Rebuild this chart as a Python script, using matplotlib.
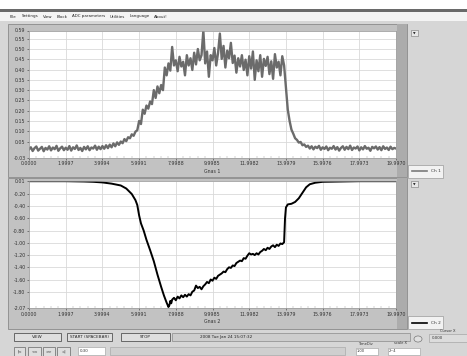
import numpy as np
import matplotlib
matplotlib.use('Agg')
import matplotlib.pyplot as plt
from matplotlib.patches import Rectangle, Circle
from matplotlib.ticker import MultipleLocator

# ---- data ----
x_ticks = [0.0, 1.9997, 3.9994, 5.9991, 7.9988, 9.9985, 11.9982, 13.9979, 15.9976, 17.9973, 19.9970]
x_ticklabels = ['0.0000', '1.9997', '3.9994', '5.9991', '7.9988', '9.9985',
                '11.9982', '13.9979', '15.9976', '17.9973', '19.9970']

ch1_ticks = [0.59, 0.55, 0.50, 0.45, 0.40, 0.35, 0.30, 0.25, 0.20, 0.15, 0.10, 0.05, -0.03]
ch1_ticklabels = ['0.59', '0.55', '0.50', '0.45', '0.40', '0.35', '0.30', '0.25',
                  '0.20', '0.15', '0.10', '0.05', '-0.03']
ch2_ticks = [0.01, -0.20, -0.40, -0.60, -0.80, -1.00, -1.20, -1.40, -1.60, -1.80, -2.07]
ch2_ticklabels = ['0.01', '-0.20', '-0.40', '-0.60', '-0.80', '-1.00', '-1.20',
                  '-1.40', '-1.60', '-1.80', '-2.07']

# channel 1 sampled every 0.1 s (0 .. 20)
ch1_time = [i / 10 for i in range(201)]
ch1_values = [
    0.012, 0.022, 0.004, 0.018, 0.026, 0.006, 0.015, 0.024, 0.003, 0.019,
    0.011, 0.027, 0.007, 0.021, 0.013, 0.029, 0.005, 0.017, 0.025, 0.008,
    0.020, 0.010, 0.028, 0.006, 0.022, 0.014, 0.031, 0.009, 0.019, 0.004,
    0.024, 0.012, 0.027, 0.008, 0.021, 0.016, 0.030, 0.010, 0.025, 0.013,
    0.028, 0.015, 0.032, 0.018, 0.035, 0.022, 0.041, 0.027, 0.046, 0.034,
    0.050, 0.042, 0.062, 0.052, 0.071, 0.066, 0.085, 0.078, 0.098, 0.105,
    0.150, 0.135, 0.205, 0.185, 0.225, 0.210, 0.245, 0.232, 0.300, 0.262,
    0.318, 0.285, 0.325, 0.300, 0.410, 0.372, 0.430, 0.395, 0.510, 0.420,
    0.445, 0.392, 0.462, 0.415, 0.438, 0.372, 0.470, 0.420, 0.455, 0.398,
    0.482, 0.425, 0.500, 0.445, 0.470, 0.590, 0.430, 0.488, 0.365, 0.470,
    0.445, 0.505, 0.420, 0.480, 0.575, 0.452, 0.515, 0.410, 0.492, 0.455,
    0.530, 0.432, 0.468, 0.385, 0.455, 0.415, 0.470, 0.398, 0.448, 0.372,
    0.465, 0.405, 0.488, 0.350, 0.445, 0.392, 0.470, 0.365, 0.452, 0.418,
    0.462, 0.378, 0.440, 0.355, 0.475, 0.410, 0.438, 0.372, 0.465, 0.420,
    0.310, 0.205, 0.150, 0.108, 0.088, 0.066, 0.058, 0.045, 0.048, 0.032,
    0.036, 0.024, 0.030, 0.016, 0.027, 0.012, 0.025, 0.018, 0.029, 0.010,
    0.022, 0.014, 0.026, 0.008, 0.020, 0.015, 0.028, 0.011, 0.023, 0.006,
    0.019, 0.027, 0.010, 0.024, 0.013, 0.030, 0.009, 0.021, 0.016, 0.026,
    0.007, 0.022, 0.012, 0.028, 0.015, 0.020, 0.005, 0.024, 0.017, 0.026,
    0.011, 0.023, 0.008, 0.027, 0.014, 0.021, 0.009, 0.025, 0.013, 0.019,
    0.016,
]

ch2_time = [0.0, 1.0, 2.0, 3.0, 3.5, 4.0, 4.5, 5.0, 5.3, 5.6, 5.8, 5.9, 6.0, 6.1,
            6.25, 6.4, 6.6, 6.8, 7.0, 7.2, 7.35, 7.5, 7.6, 7.65, 7.7, 7.75,
            7.8, 7.9, 8.0, 8.1, 8.2, 8.3, 8.4, 8.5, 8.6, 8.7, 8.8, 8.9,
            9.0, 9.1, 9.2, 9.3, 9.4, 9.5, 9.6, 9.7, 9.8, 9.9,
            10.0, 10.1, 10.2, 10.3, 10.4, 10.5, 10.6, 10.7, 10.8, 10.9,
            11.0, 11.1, 11.2, 11.3, 11.4, 11.5, 11.6, 11.7, 11.8, 11.9,
            12.0, 12.1, 12.2, 12.3, 12.4, 12.5, 12.6, 12.7, 12.8, 12.9,
            13.0, 13.1, 13.2, 13.3, 13.4, 13.5, 13.6, 13.7, 13.8, 13.9,
            13.95, 14.0, 14.1, 14.3, 14.5, 14.7, 14.9, 15.1, 15.3, 15.6,
            16.0, 17.0, 18.0, 20.0]
ch2_values = [0.01, 0.01, 0.01, 0.005, 0.0, -0.01, -0.03, -0.06, -0.11, -0.20, -0.30, -0.38, -0.55, -0.68,
              -0.80, -0.95, -1.12, -1.30, -1.52, -1.72, -1.86, -1.98, -2.05, -2.02, -1.95, -1.99,
              -1.93, -1.90, -1.94, -1.88, -1.91, -1.86, -1.89, -1.85, -1.88, -1.84, -1.86, -1.80,
              -1.78, -1.70, -1.74, -1.72, -1.76, -1.71, -1.68, -1.64, -1.66, -1.60,
              -1.62, -1.57, -1.59, -1.54, -1.52, -1.50, -1.47, -1.48, -1.43, -1.40,
              -1.41, -1.37, -1.38, -1.33, -1.31, -1.29, -1.30, -1.25, -1.26, -1.21,
              -1.17, -1.19, -1.18, -1.20, -1.17, -1.19, -1.15, -1.13, -1.10, -1.12,
              -1.08, -1.10, -1.06, -1.04, -1.07, -1.03, -1.05, -1.01, -1.02, -0.99,
              -0.60, -0.42, -0.37, -0.36, -0.33, -0.27, -0.18, -0.09, -0.04, -0.015,
              0.0, 0.005, 0.01, 0.01]

menu_items = ['File', 'Settings', 'View', 'Block', 'ADC parameters', 'Utilities', 'Language', 'About!']

W, H = 467, 356
BG = '#d6d6d6'
PANEL = '#c2c2c2'
FS = 3.4


def rect(fig, x0, y0, x1, y1, fc, ec='none', lw=0.5, z=0):
    # pixel box (top-left origin) -> figure rectangle
    r = Rectangle((x0 / W, 1 - y1 / H), (x1 - x0) / W, (y1 - y0) / H,
                  transform=fig.transFigure, facecolor=fc, edgecolor=ec, lw=lw, zorder=z)
    fig.add_artist(r)


def label(fig, x, y, s, size=FS, ha='left', **kw):
    return fig.text(x / W, 1 - y / H, s, fontsize=size, ha=ha, va='center', **kw)


def style_axes(ax, yticks, yticklabels, ylim, xlabel):
    ax.set_facecolor('white')
    ax.set_xlim(0, 19.997)
    ax.set_ylim(*ylim)
    ax.set_xticks(x_ticks)
    ax.set_xticklabels(x_ticklabels)
    ax.set_yticks(yticks)
    ax.set_yticklabels(yticklabels)
    ax.xaxis.set_minor_locator(MultipleLocator(0.39994))
    ax.tick_params(axis='both', labelsize=FS, length=1.5, width=0.4, pad=1, colors='#333333')
    ax.tick_params(axis='x', which='minor', direction='in', length=1.5, width=0.3, colors='#999999')
    ax.grid(True, which='major', color='#d9d9d9', lw=0.6)
    for s in ax.spines.values():
        s.set_color('#9a9a9a')
        s.set_linewidth(0.5)
    ax.set_xlabel(xlabel, fontsize=FS, labelpad=1.5, color='#333333')


fig = plt.figure(figsize=(W / 100, H / 100), dpi=100, facecolor=BG)

# window chrome
rect(fig, 0, 0, W, 10, 'white')
rect(fig, 0, 9, W, 12, '#6a6a6a')
rect(fig, 0, 12, W, 21, '#f4f4f4')

# menu: chain items by their measured widths so they never collide
renderer = fig.canvas.get_renderer()
xpos = 10
for item in menu_items:
    t = label(fig, xpos, 16.5, item, size=2.9, color='#222222')
    xpos += t.get_window_extent(renderer).width + 4.5

# graph panels
rect(fig, 8, 24, 407, 177, PANEL, ec='#8a8a8a', lw=0.6)
rect(fig, 397, 24, 407, 177, '#acacac')
rect(fig, 8, 178, 407, 329, PANEL, ec='#8a8a8a', lw=0.6)
rect(fig, 397, 178, 407, 329, '#acacac')

ax1 = fig.add_axes([29 / W, 1 - 158 / H, 367 / W, 127.5 / H])
ax1.plot(ch1_time, ch1_values, color='#6b6b6b', lw=1.7)
style_axes(ax1, ch1_ticks, ch1_ticklabels, (-0.03, 0.59), 'Gnas 1')

ax2 = fig.add_axes([29 / W, 1 - 308.2 / H, 367 / W, 127 / H])
ax2.plot(ch2_time, ch2_values, color='black', lw=1.4)
style_axes(ax2, ch2_ticks, ch2_ticklabels, (-2.07, 0.01), 'Gnas 2')

# dropdowns and legends on the right
for yy in (30, 181):
    rect(fig, 411, yy, 418, yy + 6, '#e8e8e8', ec='#777777', lw=0.4)
    label(fig, 414.5, yy + 3.2, '\u25bc', size=2.4, ha='center', color='#222222')
for yy, col, name in ((165, '#7a7a7a', 'Ch 1'), (316, 'black', 'Ch 2')):
    rect(fig, 408, yy, 443, yy + 13, '#f2f2f2', ec='#9a9a9a', lw=0.5)
    fig.add_artist(plt.Line2D([412 / W, 427 / W], [1 - (yy + 6.5) / H] * 2,
                              transform=fig.transFigure, color=col, lw=1.2))
    label(fig, 431, yy + 6.5, name, size=3.1, color='#333333')

# control row
for x0, x1, txt in ((14, 61, 'VIEW'), (67, 112, 'START (SPACEBAR)'), (121, 170, 'STOP')):
    rect(fig, x0, 333, x1, 341, '#dedede', ec='#555555', lw=0.6)
    label(fig, (x0 + x1) / 2, 337, txt, size=3.0, ha='center', color='#222222')
rect(fig, 172, 333, 410, 341, '#cdcdcd', ec='#8a8a8a', lw=0.5)
label(fig, 200, 337, '2008 Tue Jan 24 15:07:32', size=3.0, color='#222222')
fig.add_artist(Circle((418 / W, 1 - 339 / H), 4 / W, transform=fig.transFigure,
                      facecolor='#e0e0e0', edgecolor='#777777', lw=0.5))
label(fig, 448, 330.5, 'Cursor X', size=2.6, ha='center', color='#333333')
rect(fig, 429, 334, 467, 342, '#dcdcdc', ec='#9a9a9a', lw=0.4)
label(fig, 432, 338, '0.000', size=2.8, color='#333333')

# bottom row
for x0, x1, txt in ((14, 25, '|<'), (28, 41, '<<'), (43, 55, '>>'), (57, 70, '>|')):
    rect(fig, x0, 347, x1, 356, '#dedede', ec='#666666', lw=0.5)
    label(fig, (x0 + x1) / 2, 351.5, txt, size=2.8, ha='center', color='#222222')
rect(fig, 78, 347, 105, 355, 'white', ec='#9a9a9a', lw=0.4)
label(fig, 80, 351, '0:30', size=2.8, color='#333333')
rect(fig, 110, 347, 345, 355, '#cfcfcf', ec='#a0a0a0', lw=0.4)
label(fig, 358, 344, 'TimeDiv', size=2.6, color='#333333')
rect(fig, 356, 348, 378, 355, 'white', ec='#9a9a9a', lw=0.4)
label(fig, 357, 351.5, '1.00', size=2.6, color='#333333')
label(fig, 400, 343, 'scale X', size=2.6, ha='center', color='#333333')
rect(fig, 388, 348, 420, 355, 'white', ec='#9a9a9a', lw=0.4)
label(fig, 389, 351.5, '2~4', size=2.6, color='#333333')

fig.savefig('out.png', dpi=100, facecolor=BG)
